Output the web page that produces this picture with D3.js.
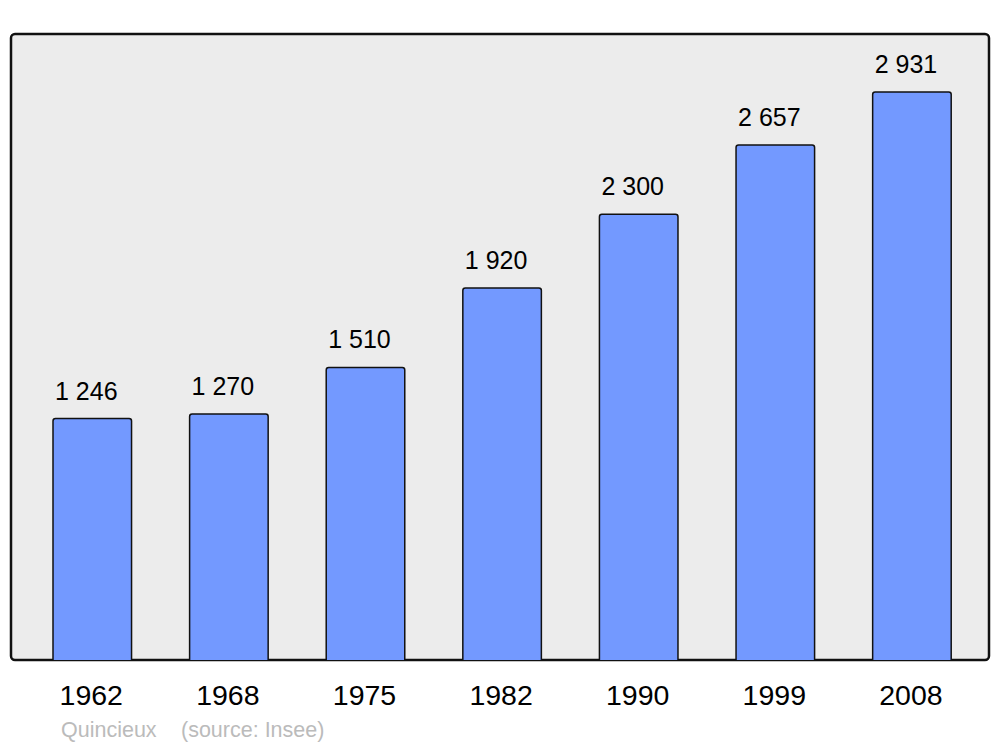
<!DOCTYPE html>
<html><head><meta charset="utf-8">
<script src="https://cdn.jsdelivr.net/npm/d3@7"></script>
<style>body{margin:0;background:#fff}svg{display:block}</style>
</head><body>
<script>
const years = ["1962","1968","1975","1982","1990","1999","2008"];
const population = [1246,1270,1510,1920,2300,2657,2931];
const labels = ["1 246","1 270","1 510","1 920","2 300","2 657","2 931"];
const title = "Quincieux";
const source = "(source: Insee)";

const W=1000,H=747;
const svg=d3.select("body").append("svg").attr("width",W).attr("height",H);
const font="'Liberation Sans', Arial, sans-serif";

svg.append("rect").attr("x",11).attr("y",34).attr("width",978).attr("height",626)
  .attr("rx",4).attr("fill","#ececec").attr("stroke","#111").attr("stroke-width",2.5);

const x=d3.scaleBand().domain(years).range([53,951.2]).paddingInner(0.425).paddingOuter(0);
const y=d3.scaleLinear().domain([0,2931]).range([660,92]);

const data=years.map((yr,i)=>({yr,v:population[i],l:labels[i]}));

svg.selectAll("path.bar").data(data).join("path").attr("class","bar")
  .attr("d",d=>{
    const x0=x(d.yr),x1=x0+x.bandwidth(),t=y(d.v),b=y(0),r=2.5;
    return `M${x0},${b}V${t+r}Q${x0},${t} ${x0+r},${t}H${x1-r}Q${x1},${t} ${x1},${t+r}V${b}`;
  })
  .attr("fill","#7399ff").attr("stroke","#111").attr("stroke-width",1.5);

svg.selectAll("text.val").data(data).join("text").attr("class","val")
  .attr("x",d=>x(d.yr)+2).attr("y",d=>y(d.v)-19)
  .attr("font-family",font).attr("font-size",25).attr("fill","#000")
  .text(d=>d.l);

svg.selectAll("text.yr").data(data).join("text").attr("class","yr")
  .attr("x",d=>x(d.yr)+x.bandwidth()/2-1).attr("y",705)
  .attr("text-anchor","middle")
  .attr("font-family",font).attr("font-size",28.5).attr("fill","#000")
  .text(d=>d.yr);

svg.append("text").attr("x",61).attr("y",737).attr("font-family",font)
  .attr("font-size",21.5).attr("fill","#bbbbbb").text(title);
svg.append("text").attr("x",181).attr("y",737).attr("font-family",font)
  .attr("font-size",21.5).attr("fill","#bbbbbb").text(source);
</script>
</body></html>
